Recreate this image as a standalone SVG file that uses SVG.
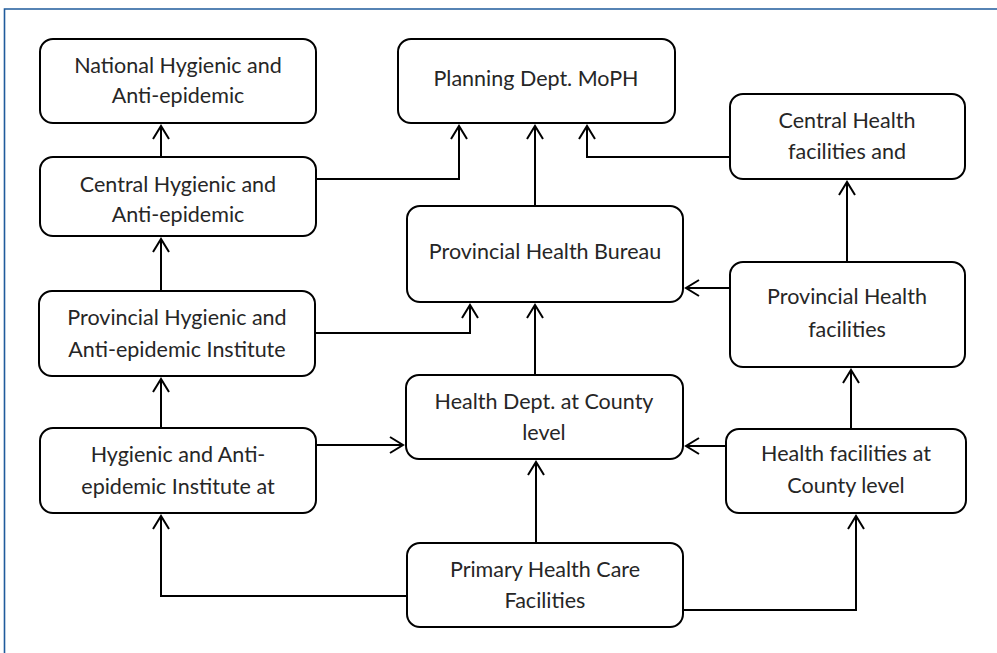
<svg xmlns="http://www.w3.org/2000/svg" width="997" height="653" viewBox="0 0 997 653">
<style>
.box{fill:#fff;stroke:#000;stroke-width:2}
.t{font-family:Lato,"Open Sans","Liberation Sans",sans-serif;font-size:21.5px;fill:#262626;text-anchor:middle}
.c{fill:none;stroke:#000;stroke-width:2}
</style>
<defs>
<marker id="a" markerUnits="userSpaceOnUse" markerWidth="24" markerHeight="24" viewBox="-16 -12 24 24" refX="0" refY="0" orient="auto">
<path d="M-13,-8 L0,0 L-13,8" fill="none" stroke="#000" stroke-width="2"/>
</marker>
</defs>
<rect width="997" height="653" fill="#fff"/>
<path d="M4.5,653 V9 H997" fill="none" stroke="#1f5b9c" stroke-width="1.6"/>
<g id="connectors">
<path class="c" d="M161,157 V126" marker-end="url(#a)"/>
<path class="c" d="M161,291 V239" marker-end="url(#a)"/>
<path class="c" d="M161,428 V379" marker-end="url(#a)"/>
<path class="c" d="M316,179 H459 V126" marker-end="url(#a)"/>
<path class="c" d="M730,157 H587 V126" marker-end="url(#a)"/>
<path class="c" d="M535,206 V126" marker-end="url(#a)"/>
<path class="c" d="M315,333 H470 V305" marker-end="url(#a)"/>
<path class="c" d="M535,375 V305" marker-end="url(#a)"/>
<path class="c" d="M730,288 H686" marker-end="url(#a)"/>
<path class="c" d="M847,262 V182" marker-end="url(#a)"/>
<path class="c" d="M316,445 H403" marker-end="url(#a)"/>
<path class="c" d="M726,446 H686" marker-end="url(#a)"/>
<path class="c" d="M851,429 V370" marker-end="url(#a)"/>
<path class="c" d="M536,543 V462" marker-end="url(#a)"/>
<path class="c" d="M407,596 H161 V516" marker-end="url(#a)"/>
<path class="c" d="M683,610 H856 V516" marker-end="url(#a)"/>
</g>
<g id="national">
<rect class="box" x="40" y="39" width="276" height="84" rx="13"/>
<text class="t" x="178" y="73">National Hygienic and</text>
<text class="t" x="178" y="103">Anti-epidemic</text>
</g>
<g id="central-hygienic">
<rect class="box" x="40" y="157" width="276" height="79" rx="13"/>
<text class="t" x="178" y="192">Central Hygienic and</text>
<text class="t" x="178" y="222">Anti-epidemic</text>
</g>
<g id="provincial-hygienic">
<rect class="box" x="39" y="291" width="276" height="85" rx="13"/>
<text class="t" x="177" y="325">Provincial Hygienic and</text>
<text class="t" x="177" y="357">Anti-epidemic Institute</text>
</g>
<g id="county-hygienic">
<rect class="box" x="40" y="428" width="276" height="85" rx="13"/>
<text class="t" x="178" y="462">Hygienic and Anti-</text>
<text class="t" x="178" y="494">epidemic Institute at</text>
</g>
<g id="planning">
<rect class="box" x="398" y="39" width="277" height="84" rx="13"/>
<text class="t" x="536" y="86">Planning Dept. MoPH</text>
</g>
<g id="bureau">
<rect class="box" x="407" y="206" width="276" height="96" rx="13"/>
<text class="t" x="545" y="259">Provincial Health Bureau</text>
</g>
<g id="county-dept">
<rect class="box" x="406" y="375" width="277" height="84" rx="13"/>
<text class="t" x="544" y="409">Health Dept. at County</text>
<text class="t" x="544" y="440">level</text>
</g>
<g id="primary">
<rect class="box" x="407" y="543" width="276" height="84" rx="13"/>
<text class="t" x="545" y="577">Primary Health Care</text>
<text class="t" x="545" y="608">Facilities</text>
</g>
<g id="central-facilities">
<rect class="box" x="730" y="94" width="235" height="85" rx="13"/>
<text class="t" x="847" y="128">Central Health</text>
<text class="t" x="847" y="159">facilities and</text>
</g>
<g id="provincial-facilities">
<rect class="box" x="730" y="262" width="235" height="105" rx="13"/>
<text class="t" x="847" y="304">Provincial Health</text>
<text class="t" x="847" y="337">facilities</text>
</g>
<g id="county-facilities">
<rect class="box" x="726" y="429" width="240" height="84" rx="13"/>
<text class="t" x="846" y="461">Health facilities at</text>
<text class="t" x="846" y="493">County level</text>
</g>
</svg>
